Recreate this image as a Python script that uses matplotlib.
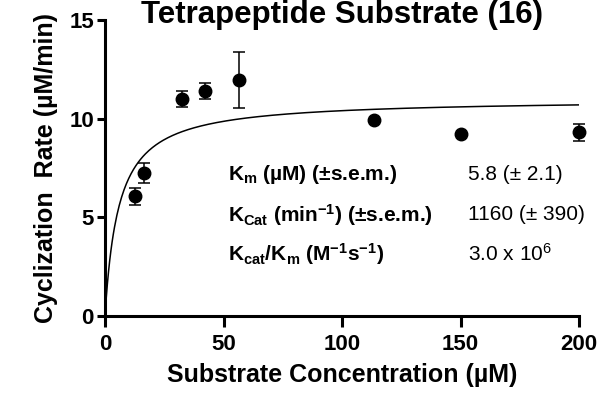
import numpy as np
import matplotlib
matplotlib.use("Agg")
import matplotlib.pyplot as plt

plt.rcParams['font.family'] = ['Liberation Sans', 'DejaVu Sans']
plt.rcParams['mathtext.fontset'] = 'custom'
plt.rcParams['mathtext.rm'] = 'Liberation Sans'
plt.rcParams['mathtext.bf'] = 'Liberation Sans:bold'
plt.rcParams['mathtext.it'] = 'Liberation Sans'

# Data
conc = [12.5, 16.5, 32.4, 42.3, 56.4, 113.3, 150.4, 200]
rate = [6.05, 7.25, 11.0, 11.4, 11.95, 9.9, 9.2, 9.3]
err = [0.45, 0.5, 0.4, 0.4, 1.4, 0.0, 0.0, 0.44]

# Michaelis-Menten fit
km = 5.8
vmax = 11.0

rows = [r"$\mathbf{K_m}$ (µM) (±s.e.m.)",
        r"$\mathbf{K_{Cat}}$ (min$\mathbf{^{-1}}$) (±s.e.m.)",
        r"$\mathbf{K_{cat}/K_m}$ (M$\mathbf{^{-1}}$s$\mathbf{^{-1}}$)"]
vals = ["5.8 (± 2.1)", "1160 (± 390)", r"3.0 x 10$^{6}$"]

fig = plt.figure(figsize=(6, 4.04), dpi=100)
ax = fig.add_axes([0.175, 0.218, 0.79, 0.733])

xs = np.linspace(0, 200, 400)
ax.plot(xs, vmax*xs/(km + xs), color='black', lw=1.1)
ax.errorbar(conc, rate, yerr=err, fmt='o', color='black', ms=9,
            elinewidth=1.1, capsize=4, capthick=1.1, clip_on=False)

ax.set_xlim(0, 200)
ax.set_ylim(0, 15)
ax.set_xticks([0, 50, 100, 150, 200])
ax.set_yticks([0, 5, 10, 15])
for s in ['top', 'right']:
    ax.spines[s].set_visible(False)
for s in ['left', 'bottom']:
    ax.spines[s].set_linewidth(2.2)
ax.tick_params(axis='x', length=8, width=2.2, labelsize=16, pad=5)
ax.tick_params(axis='y', length=6, width=2.2, labelsize=16, pad=2)
for lab in ax.get_xticklabels() + ax.get_yticklabels():
    lab.set_fontweight('bold')

ax.set_xlabel("Substrate Concentration (µM)", fontsize=18, fontweight='bold', labelpad=6)
ax.set_ylabel("Cyclization  Rate (µM/min)", fontsize=18, fontweight='bold', labelpad=8)

fig.text(0.57, 1.0, "Tetrapeptide Substrate (16)", ha='center', va='top',
         fontsize=22.5, fontweight='bold')

ys = [175, 215, 254]
for r, v, y in zip(rows, vals, ys):
    fig.text(228/600, 1 - y/404, r, ha='left', va='center', fontsize=15, fontweight='bold')
    fig.text(468/600, 1 - y/404, v, ha='left', va='center', fontsize=15)

fig.savefig("out.png", dpi=100)
